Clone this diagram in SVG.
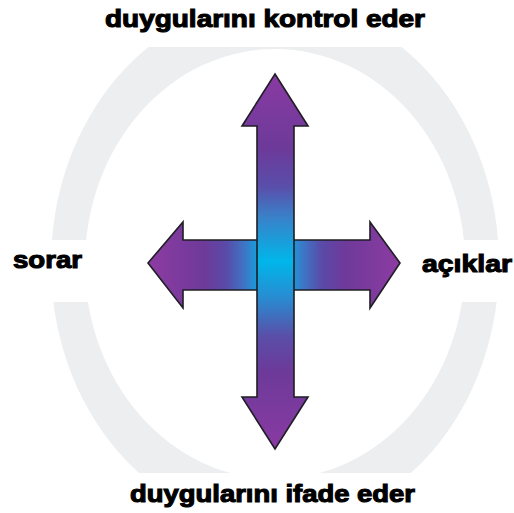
<svg xmlns="http://www.w3.org/2000/svg" width="514" height="513" viewBox="0 0 514 513">
<style>
.lbl{font-family:"Liberation Sans",Arial,sans-serif;font-weight:bold;font-size:24px;fill:#000;stroke:#000;stroke-width:1.1px}
.arrow{stroke:#1e1e24;stroke-width:1.6;stroke-linejoin:miter}
</style>
<defs>
<clipPath id="ringClip">
<rect x="0" y="47" width="514" height="193"/>
<rect x="0" y="302" width="514" height="171"/>
</clipPath>
<linearGradient id="gh" gradientUnits="userSpaceOnUse" x1="148" y1="0" x2="400" y2="0">
<stop offset="0" stop-color="#8d3ba1"/>
<stop offset="0.22" stop-color="#6e3a9a"/>
<stop offset="0.31" stop-color="#5a4aa8"/>
<stop offset="0.39" stop-color="#3a7ac8"/>
<stop offset="0.46" stop-color="#00b4e8"/>
<stop offset="0.54" stop-color="#00b4e8"/>
<stop offset="0.61" stop-color="#3a7ac8"/>
<stop offset="0.69" stop-color="#5a4aa8"/>
<stop offset="0.78" stop-color="#6e3a9a"/>
<stop offset="1" stop-color="#8d3ba1"/>
</linearGradient>
<linearGradient id="gv" gradientUnits="userSpaceOnUse" x1="0" y1="74" x2="0" y2="449">
<stop offset="0" stop-color="#8a3aa2"/>
<stop offset="0.2" stop-color="#6c3a9a"/>
<stop offset="0.3" stop-color="#5a4eaa"/>
<stop offset="0.38" stop-color="#3a80c8"/>
<stop offset="0.5" stop-color="#00b6ea"/>
<stop offset="0.6" stop-color="#2a8ad0"/>
<stop offset="0.7" stop-color="#5a4ea8"/>
<stop offset="0.79" stop-color="#6c3a9a"/>
<stop offset="1" stop-color="#8a3aa2"/>
</linearGradient>
</defs>
<rect width="514" height="513" fill="#fff"/>
<g id="ring" clip-path="url(#ringClip)">
<path fill="#eceef0" fill-rule="evenodd" d="M51,264 a224,263 0 1,0 448,0 a224,263 0 1,0 -448,0 Z M85,264 a190,215 0 1,0 380,0 a190,215 0 1,0 -380,0 Z"/>
</g>
<g id="connectors">
<g id="arrow-horizontal">
<path class="arrow" fill="url(#gh)" d="M148,263 L183,222 L183,240 L370,240 L370,222 L400,263 L370,308 L370,290 L183,290 L183,308 Z"/>
</g>
<g id="arrow-vertical">
<path class="arrow" fill="url(#gv)" d="M275,74 L308,126 L294,126 L294,397 L308,397 L275,449 L242,397 L257,397 L257,126 L242,126 Z"/>
</g>
</g>
<g id="node-top"><text class="lbl" x="105" y="27" textLength="320" lengthAdjust="spacingAndGlyphs">duygularını kontrol eder</text></g>
<g id="node-bottom"><text class="lbl" x="130" y="502" textLength="285" lengthAdjust="spacingAndGlyphs">duygularını ifade eder</text></g>
<g id="node-left"><text class="lbl" x="13" y="268" textLength="69" lengthAdjust="spacingAndGlyphs">sorar</text></g>
<g id="node-right"><text class="lbl" x="422" y="272" textLength="90" lengthAdjust="spacingAndGlyphs">açıklar</text></g>
</svg>
